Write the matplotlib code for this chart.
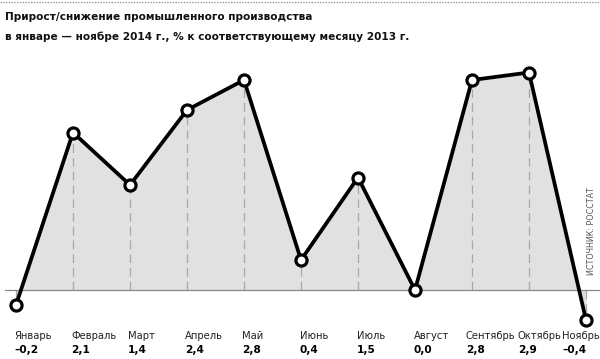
import matplotlib
matplotlib.use("Agg")
import matplotlib.pyplot as plt
import numpy as np

months = ["Январь", "Февраль", "Март", "Апрель", "Май", "Июнь", "Июль",
          "Август", "Сентябрь", "Октябрь", "Ноябрь"]
values = [-0.2, 2.1, 1.4, 2.4, 2.8, 0.4, 1.5, 0.0, 2.8, 2.9, -0.4]
value_labels = ["–0,2", "2,1", "1,4", "2,4", "2,8", "0,4", "1,5", "0,0", "2,8", "2,9", "–0,4"]
title_lines = ["Прирост/снижение промышленного производства",
               "в январе — ноябре 2014 г., % к соответствующему месяцу 2013 г."]
source = "ИСТОЧНИК: РОССТАТ"

# label shift from point (pixels), layout only
label_shift = [-2, -2, -2, -2, -2, -1, -1, -1, -6, -11, -24]

FONT = ['Liberation Sans Narrow', 'DejaVu Sans Condensed', 'DejaVu Sans']
plt.rcParams['font.family'] = FONT

W, H = 600, 359
fig = plt.figure(figsize=(W / 100, H / 100), dpi=100)
ax = fig.add_axes([0, 0, 1, 1])
x0, dx = 16, 57
y0, dy = 290, 75
ax.set_xlim(-x0 / dx, (W - x0) / dx)
ax.set_ylim(-(H - y0) / dy, y0 / dy)
ax.axis('off')

x = np.arange(len(values))
v = np.array(values)
ax.fill_between(x, v, 0, color='#e0e1e0', zorder=1, linewidth=0)
for xi, vi in zip(x, v):
    ax.plot([xi, xi], [0, vi], color='#a8a8a8', lw=0.9, ls=(0, (7, 4)), zorder=2)
ax.plot([-11 / dx, (W - x0) / dx], [0, 0], color='#8a8a8a', lw=0.9, zorder=2)
ax.plot(x, v, color='black', lw=2.7, zorder=3, solid_joinstyle='miter',
        marker='o', markersize=8, markerfacecolor='white',
        markeredgecolor='black', markeredgewidth=2.3)

for xi, m, lab, s in zip(x, months, value_labels, label_shift):
    ax.text(xi + s / dx, -(336 - y0) / dy, m, fontsize=7.2, color='#222222',
            ha='left', va='center')
    ax.text(xi + s / dx, -(350 - y0) / dy, lab, fontsize=7.6, color='black',
            ha='left', va='center', fontweight='bold')

fig.text(5 / W, 1 - 17 / H, title_lines[0], fontsize=7.6, fontweight='bold',
         ha='left', va='center', color='#111111')
fig.text(5 / W, 1 - 37 / H, title_lines[1], fontsize=7.6, fontweight='bold',
         ha='left', va='center', color='#111111')
fig.text(592 / W, 1 - 275 / H, source, fontsize=5.8, rotation=90, ha='center',
         va='bottom', color='#555555')
fig.add_artist(plt.Line2D([0, 1], [1 - 2 / H, 1 - 2 / H], transform=fig.transFigure,
                          color='#999999', lw=1, ls=(0, (1, 1))))

fig.savefig("out.png", dpi=100)
